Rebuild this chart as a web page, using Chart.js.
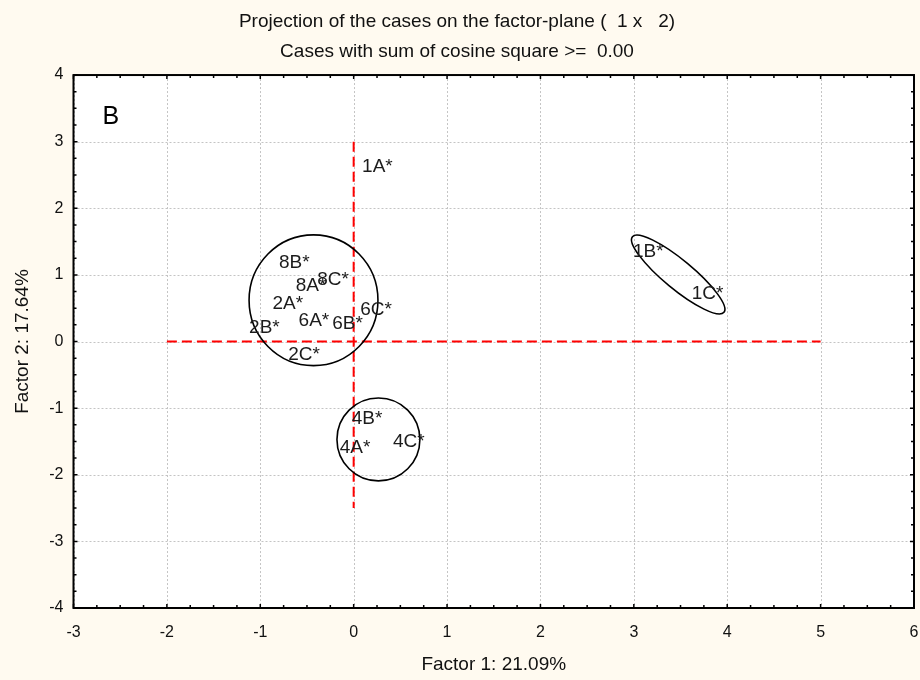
<!DOCTYPE html>
<html>
<head>
<meta charset="utf-8">
<script src="https://cdn.jsdelivr.net/npm/chart.js@4/dist/chart.umd.min.js"></script>
<style>
  html, body { margin: 0; padding: 0; background: #fffaf0; }
  #wrap { width: 920px; height: 680px; }
</style>
</head>
<body>
<div id="wrap"><canvas id="c" width="920" height="680"></canvas></div>
<script>
// Case coordinates on the first two factors
const caseLabels = ['1A*', '1B*', '1C*', '2A*', '2B*', '2C*', '4A*', '4B*', '4C*', '6A*', '6B*', '6C*', '8A*', '8B*', '8C*'];
const factor1 = [0.09, 2.99, 3.62, -0.87, -1.12, -0.70, -0.15, -0.02, 0.42, -0.59, -0.23, 0.07, -0.62, -0.80, -0.39];
const factor2 = [2.62, 1.35, 0.72, 0.56, 0.20, -0.20, -1.60, -1.16, -1.51, 0.31, 0.27, 0.48, 0.84, 1.18, 0.92];

// Axis ranges and tick labels
const xTickValues = [-3, -2, -1, 0, 1, 2, 3, 4, 5, 6];
const yTickValues = [-4, -3, -2, -1, 0, 1, 2, 3, 4];

// Red reference cross through the origin
const crossHorizontal = [{ x: -2, y: 0 }, { x: 5, y: 0 }];
const crossVertical = [{ x: 0, y: 3 }, { x: 0, y: -2.5 }];

// Group outlines: centre, end of the major semi-axis (offset), minor semi-axis (factor-1 units)
const groupCentreX = [-0.43, 0.265, 3.475];
const groupCentreY = [0.62, -1.47, 1.006];
const groupMajorDX = [0.69, 0.444, 0.49];
const groupMajorDY = [0, 0, -0.568];
const groupMinor = [0.70, 0.444, 0.155];

const titleLines = ['Projection of the cases on the factor-plane (  1 x   2)', 'Cases with sum of cosine square >=  0.00'];
const panelLetter = 'B';
const xAxisTitle = 'Factor 1: 21.09%';
const yAxisTitle = 'Factor 2: 17.64%';

const FONT = "'Liberation Sans', Arial, sans-serif";

const points = caseLabels.map((_, i) => ({ x: factor1[i], y: factor2[i] }));

// Plot background, dotted grid, frame with inward ticks
const framePlugin = {
  id: 'frame',
  beforeDraw(chart) {
    const { ctx, chartArea: a } = chart;
    ctx.save();
    ctx.fillStyle = '#fffaf0';
    ctx.fillRect(0, 0, chart.width, chart.height);
    ctx.fillStyle = '#ffffff';
    ctx.fillRect(a.left, a.top, a.right - a.left, a.bottom - a.top);
    ctx.restore();
  },
  beforeDatasetsDraw(chart) {
    const { ctx, chartArea: a, scales: { x, y } } = chart;
    ctx.save();
    ctx.strokeStyle = '#c4c4c4';
    ctx.lineWidth = 1;
    ctx.setLineDash([2, 2]);
    xTickValues.forEach(v => {
      const px = Math.round(x.getPixelForValue(v)) + 0.5;
      ctx.beginPath(); ctx.moveTo(px, a.top); ctx.lineTo(px, a.bottom); ctx.stroke();
    });
    yTickValues.forEach(v => {
      const py = Math.round(y.getPixelForValue(v)) + 0.5;
      ctx.beginPath(); ctx.moveTo(a.left, py); ctx.lineTo(a.right, py); ctx.stroke();
    });
    ctx.restore();
  },
  afterDatasetsDraw(chart) {
    const { ctx, chartArea: a, scales: { x, y } } = chart;
    ctx.save();
    // group outlines
    ctx.strokeStyle = '#000000';
    ctx.lineWidth = 1.6;
    groupCentreX.forEach((cxv, i) => {
      const cx = x.getPixelForValue(cxv), cy = y.getPixelForValue(groupCentreY[i]);
      const ex = x.getPixelForValue(cxv + groupMajorDX[i]);
      const ey = y.getPixelForValue(groupCentreY[i] + groupMajorDY[i]);
      const major = Math.hypot(ex - cx, ey - cy);
      const rot = Math.atan2(ey - cy, ex - cx);
      const minor = Math.abs(x.getPixelForValue(cxv + groupMinor[i]) - cx);
      ctx.beginPath();
      ctx.ellipse(cx, cy, major, minor, rot, 0, Math.PI * 2);
      ctx.stroke();
    });
    // case labels
    ctx.fillStyle = '#1c1c1c';
    ctx.font = `19px ${FONT}`;
    ctx.textAlign = 'left';
    ctx.textBaseline = 'middle';
    caseLabels.forEach((lab, i) => {
      ctx.fillText(lab, x.getPixelForValue(factor1[i]), y.getPixelForValue(factor2[i]));
    });
    // panel letter
    ctx.font = `25px ${FONT}`;
    ctx.fillStyle = '#000000';
    ctx.fillText(panelLetter, a.left + 29, a.top + 42);
    // frame
    ctx.strokeStyle = '#000000';
    ctx.lineWidth = 2;
    ctx.strokeRect(a.left, a.top, a.right - a.left, a.bottom - a.top);
    // inward ticks
    ctx.lineWidth = 1.5;
    const step = 0.25;
    for (let v = x.min; v <= x.max + 1e-9; v += step) {
      const major = Math.abs(v - Math.round(v)) < 1e-9;
      const len = major ? 4 : 3;
      const px = x.getPixelForValue(v);
      ctx.beginPath();
      ctx.moveTo(px, a.bottom); ctx.lineTo(px, a.bottom - len);
      ctx.moveTo(px, a.top); ctx.lineTo(px, a.top + len);
      ctx.stroke();
    }
    for (let v = y.min; v <= y.max + 1e-9; v += step) {
      const major = Math.abs(v - Math.round(v)) < 1e-9;
      const len = major ? 4 : 3;
      const py = y.getPixelForValue(v);
      ctx.beginPath();
      ctx.moveTo(a.left, py); ctx.lineTo(a.left + len, py);
      ctx.moveTo(a.right, py); ctx.lineTo(a.right - len, py);
      ctx.stroke();
    }
    ctx.restore();
  }
};

new Chart(document.getElementById('c'), {
  type: 'scatter',
  data: {
    datasets: [
      {
        label: 'cases',
        data: points,
        pointRadius: 0,
        pointHoverRadius: 0,
        showLine: false
      },
      {
        type: 'line',
        label: 'axis1',
        data: crossHorizontal,
        borderColor: '#ff0000',
        borderWidth: 2,
        borderDash: [10, 5],
        pointRadius: 0,
        fill: false
      },
      {
        type: 'line',
        label: 'axis2',
        data: crossVertical,
        borderColor: '#ff0000',
        borderWidth: 2,
        borderDash: [10, 5],
        pointRadius: 0,
        fill: false
      }
    ]
  },
  options: {
    responsive: false,
    animation: false,
    events: [],
    layout: { padding: { top: 0, right: 6, left: 0, bottom: 0 } },
    plugins: {
      legend: { display: false },
      tooltip: { enabled: false },
      title: {
        display: true,
        text: titleLines,
        color: '#111111',
        font: { family: FONT, size: 19, weight: 'normal', lineHeight: 1.58 },
        padding: { top: 7, bottom: 8 }
      }
    },
    scales: {
      x: {
        type: 'linear',
        min: xTickValues[0],
        max: xTickValues[xTickValues.length - 1],
        afterBuildTicks(scale) { scale.ticks = xTickValues.map(v => ({ value: v })); },
        afterFit(scale) { scale.height = 72; scale.paddingLeft = 0; scale.paddingRight = 0; },
        grid: { display: false, drawTicks: false },
        border: { display: false },
        ticks: { color: '#111111', font: { family: FONT, size: 16 }, padding: 15, maxRotation: 0 },
        title: { display: true, text: xAxisTitle, color: '#111111', font: { family: FONT, size: 19 }, padding: { top: 0, bottom: 4 } }
      },
      y: {
        type: 'linear',
        min: yTickValues[0],
        max: yTickValues[yTickValues.length - 1],
        afterBuildTicks(scale) { scale.ticks = yTickValues.map(v => ({ value: v })); },
        afterFit(scale) { scale.width = 73.5; scale.paddingTop = 0; scale.paddingBottom = 0; },
        grid: { display: false, drawTicks: false },
        border: { display: false },
        ticks: { color: '#111111', font: { family: FONT, size: 16 }, padding: 10 },
        title: { display: true, text: yAxisTitle, color: '#111111', font: { family: FONT, size: 19 }, padding: { top: 11, bottom: 0 } }
      }
    }
  },
  plugins: [framePlugin]
});
</script>
</body>
</html>
